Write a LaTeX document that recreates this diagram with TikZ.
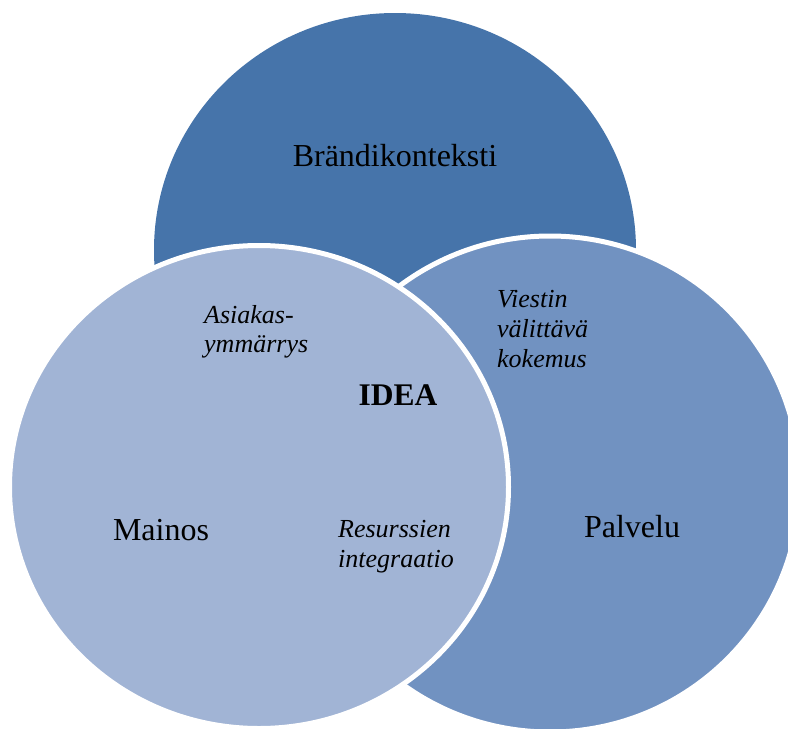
\documentclass[tikz,border=0pt]{standalone}
\usepackage{fontspec}
\setmainfont{Liberation Serif}
\definecolor{topblue}{RGB}{70,116,170}
\definecolor{midblue}{RGB}{113,146,193}
\definecolor{lightblue}{RGB}{161,180,213}
\begin{document}
\begin{tikzpicture}[x=1pt,y=-1pt,
  venn/.style={draw=white,line width=5pt},
  big/.style={font=\fontsize{32}{36}\selectfont,inner sep=0pt},
  ital/.style={font=\fontsize{26}{30}\selectfont\itshape,inner sep=0pt,anchor=base west},
  boldlbl/.style={font=\fontsize{31.5}{36}\selectfont\bfseries,inner sep=0pt}]
\useasboundingbox (0,0) rectangle (788,729);
\begin{scope}
\clip (0,0) rectangle (788,729);
\fill[topblue] (395,250) ellipse [x radius=241, y radius=237];
\filldraw[venn,fill=midblue] (550,484) ellipse [x radius=250, y radius=248];
\filldraw[venn,fill=lightblue] (259,487) ellipse [x radius=249.5, y radius=241.5];
\end{scope}
\node[big,anchor=base] (brand) at (395,166) {Brändikonteksti};
\node[big,anchor=base] (mainos) at (161,540) {Mainos};
\node[big,anchor=base] (palvelu) at (632,537) {Palvelu};
\node[boldlbl,anchor=base] (idea) at (398,405) {IDEA};
\node[ital] (asi1) at (204,323) {Asiakas-};
\node[ital] (asi2) at (204,352) {ymmärrys};
\node[ital] (vie1) at (497,307) {Viestin};
\node[ital] (vie2) at (497,337) {välittävä};
\node[ital] (vie3) at (497,367) {kokemus};
\node[ital] (res1) at (338,537) {Resurssien};
\node[ital] (res2) at (338,567) {integraatio};
\end{tikzpicture}
\end{document}
